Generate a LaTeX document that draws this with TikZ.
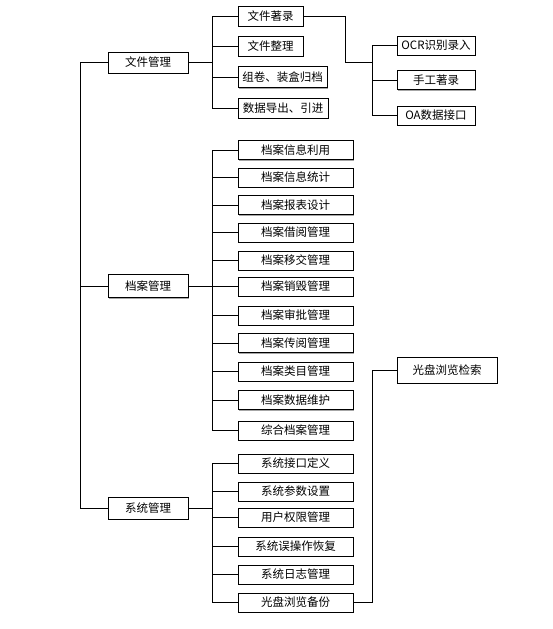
\documentclass[tikz,border=0pt]{standalone}
\usepackage{fontspec}
\newfontfamily\cjk{Noto Sans CJK SC}
\usetikzlibrary{shadows}
\begin{document}
\begin{tikzpicture}[x=1pt,y=-1pt,
  box/.style={draw=black,line width=0.7pt,fill=white,inner sep=0pt,
    font=\cjk\fontsize{11.5}{13}\selectfont,
    drop shadow={shadow xshift=1pt,shadow yshift=-1pt,fill=gray!70,opacity=1}},
  conn/.style={draw=black,line width=0.7pt}]
\useasboundingbox[fill=white] (0,0) rectangle (553,629);
% level 1
\node[box,minimum width=80pt,minimum height=21pt] (wjgl) at (148,62.5) {文件管理};
\node[box,minimum width=80pt,minimum height=23pt] (dagl) at (148,286) {档案管理};
\node[box,minimum width=80pt,minimum height=22pt] (xtgl) at (148,508) {系统管理};
% group 1
\node[box,minimum width=65pt,minimum height=20pt] (wjzl) at (270.5,16) {文件著录};
\node[box,minimum width=65pt,minimum height=20pt] (wjzheng) at (270.5,46) {文件整理};
\node[box,minimum width=89pt,minimum height=21pt] (zj) at (282.5,77) {组卷、装盒归档};
\node[box,minimum width=90pt,minimum height=20pt] (sjdc) at (283,108) {数据导出、引进};
% OCR group
\node[box,minimum width=78pt,minimum height=19pt] (ocr) at (436,45.5) {OCR识别录入};
\node[box,minimum width=78pt,minimum height=19pt] (sgzl) at (436,80) {手工著录};
\node[box,minimum width=78pt,minimum height=19pt] (oa) at (436,115.5) {OA数据接口};
% group 2
\foreach \n/\y/\t in {a1/150/档案信息利用,a2/177.5/档案信息统计,a3/205/档案报表设计,
  a4/232.5/档案借阅管理,a5/260.5/档案移交管理,a6/286.5/档案销毁管理,a7/315.5/档案审批管理,
  a8/343/档案传阅管理,a9/371.5/档案类目管理,a10/400/档案数据维护,a11/430.5/综合档案管理,
  b1/463.5/系统接口定义,b2/491.5/系统参数设置,b3/517.5/用户权限管理,b4/546.5/系统误操作恢复,
  b5/574.5/系统日志管理,b6/602.5/光盘浏览备份}
  \node[box,minimum width=115pt,minimum height=19pt] (\n) at (295.5,\y) {\t};
\node[box,minimum width=100pt,minimum height=26pt] (gpjs) at (447,370) {光盘浏览检索};
% coordinates
\coordinate (m) at (80,0);
\coordinate (s) at (212,0);
\coordinate (j1) at (345,62);
\coordinate (r) at (372,0);
% main spine
\draw[conn] (wjgl.west) -- (wjgl.west -| m) -- (xtgl.west -| m) -- (xtgl.west);
\draw[conn] (dagl.west) -- (dagl.west -| m);
% group 1
\draw[conn] (wjgl.east) -- (wjgl.east -| s);
\draw[conn] (wjzl.west -| s) -- (sjdc.west -| s);
\foreach \n in {wjzl,wjzheng,zj,sjdc} \draw[conn] (\n.west -| s) -- (\n.west);
% group 2
\draw[conn] (dagl.east) -- (dagl.east -| s);
\draw[conn] (a1.west -| s) -- (a11.west -| s);
\foreach \n in {a1,a2,a3,a4,a5,a6,a7,a8,a9,a10,a11} \draw[conn] (\n.west -| s) -- (\n.west);
% group 3
\draw[conn] (xtgl.east) -- (xtgl.east -| s);
\draw[conn] (b1.west -| s) -- (b6.west -| s);
\foreach \n in {b1,b2,b3,b4,b5,b6} \draw[conn] (\n.west -| s) -- (\n.west);
% OCR group
\draw[conn] (wjzl.east) -| (j1) -- (j1 -| r);
\draw[conn] (ocr.west -| r) -- (oa.west -| r);
\foreach \n in {ocr,sgzl,oa} \draw[conn] (\n.west -| r) -- (\n.west);
% optical disc
\draw[conn] (b6.east) -| (gpjs.west -| r) -- (gpjs.west);
\end{tikzpicture}
\end{document}
